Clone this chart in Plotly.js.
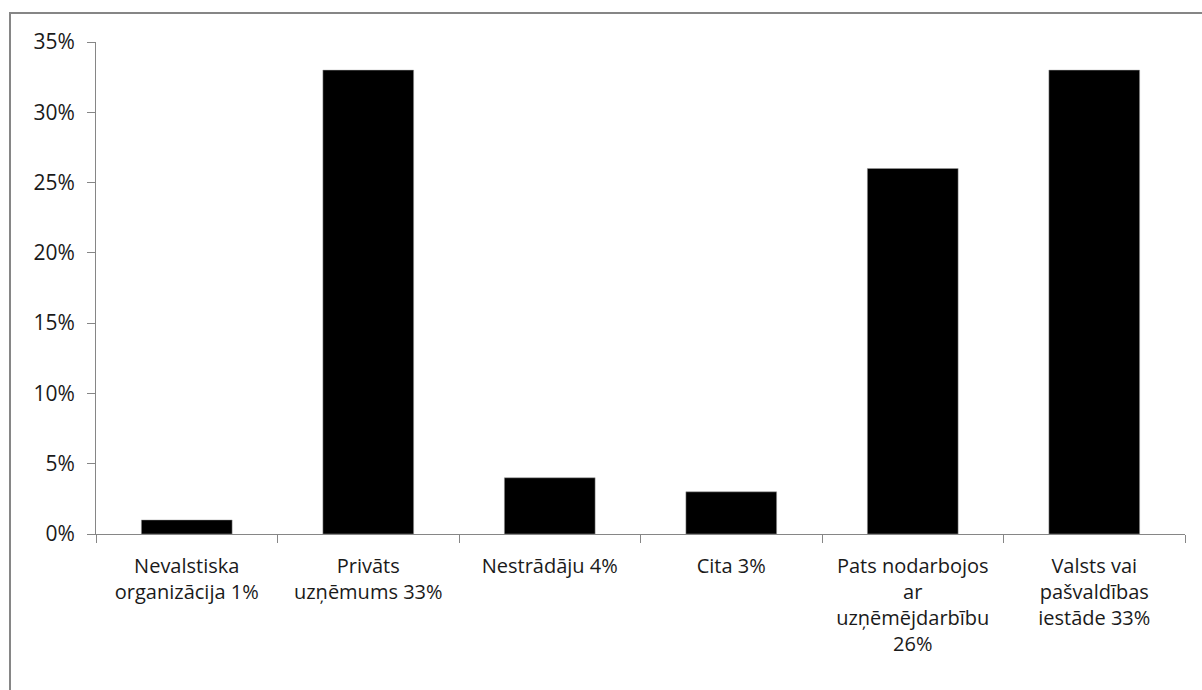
<!DOCTYPE html>
<html>
<head>
<meta charset="utf-8">
<script src="https://cdn.plot.ly/plotly-3.0.1.min.js"></script>
<style>html,body{margin:0;padding:0;background:#fff;}#chart{width:1202px;height:690px;}</style>
</head>
<body>
<div id="chart"></div>
<script>
const categories = [
  "Nevalstiska<br>organizācija 1%",
  "Privāts<br>uzņēmums 33%",
  "Nestrādāju 4%",
  "Cita 3%",
  "Pats nodarbojos<br>ar<br>uzņēmējdarbību<br>26%",
  "Valsts vai<br>pašvaldības<br>iestāde 33%"
];
const values = [1, 33, 4, 3, 26, 33];
const yTickVals = [0, 5, 10, 15, 20, 25, 30, 35];
const yTickText = ["0%", "5%", "10%", "15%", "20%", "25%", "30%", "35%"];

const W = 1202, H = 690, L = 96, R = 17, T = 42, B = 156;
const pw = W - L - R, ph = H - T - B;
const FONT = 'Open Sans, sans-serif';
const TXT = '#1a1a1a';
const px = v => (v - L) / pw;          // page x -> paper x
const py = v => (T + ph - v) / ph;     // page y -> paper y

const trace = {
  type: 'bar',
  x: categories,
  y: values,
  width: 0.5,
  marker: {color: '#000000', line: {color: '#a0a0a0', width: 0.5}},
  hoverinfo: 'none'
};

const border = {color: '#868686', width: 2};
const layout = {
  width: W, height: H,
  margin: {l: L, r: R, t: T, b: B, pad: 0},
  paper_bgcolor: '#ffffff',
  plot_bgcolor: '#ffffff',
  font: {family: FONT, size: 20, color: TXT},
  showlegend: false,
  xaxis: {
    type: 'category',
    showgrid: false,
    showline: true, linecolor: '#868686', linewidth: 1,
    ticks: 'outside', ticklen: 8, tickcolor: '#868686',
    tickson: 'boundaries',
    ticklabelstandoff: 14,
    tickfont: {family: FONT, size: 20, color: TXT},
    tickangle: 0,
    zeroline: false,
    fixedrange: true
  },
  yaxis: {
    range: [0, 35],
    tickvals: yTickVals,
    ticktext: yTickText,
    showgrid: false,
    showline: true, linecolor: '#868686', linewidth: 1,
    ticks: 'outside', ticklen: 8, tickcolor: '#868686',
    ticklabelstandoff: 8,
    tickfont: {family: FONT, size: 21, color: TXT},
    zeroline: false,
    fixedrange: true
  },
  shapes: [
    {type: 'line', xref: 'paper', yref: 'paper', x0: px(10), x1: px(W + 5), y0: py(13), y1: py(13), line: border, layer: 'above'},
    {type: 'line', xref: 'paper', yref: 'paper', x0: px(10), x1: px(10), y0: py(12), y1: py(H + 5), line: border, layer: 'above'}
  ]
};

Plotly.newPlot('chart', [trace], layout, {displayModeBar: false, staticPlot: true});
</script>
</body>
</html>
